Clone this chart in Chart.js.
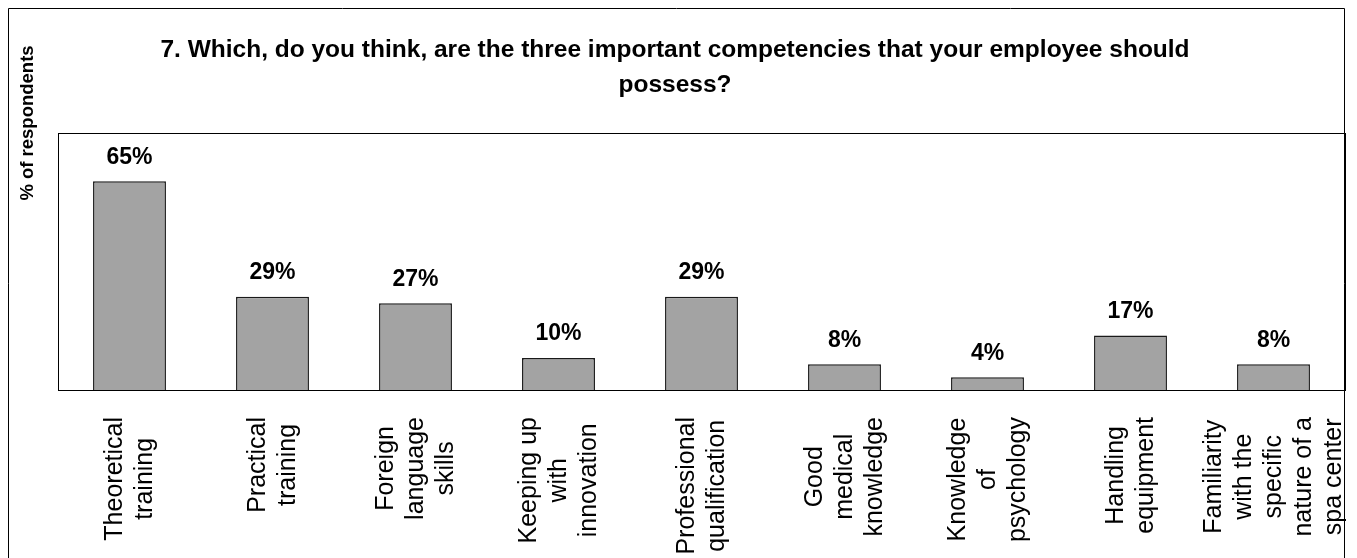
<!DOCTYPE html>
<html>
<head>
<meta charset="utf-8">
<script src="https://cdn.jsdelivr.net/npm/chart.js@4.4.1/dist/chart.umd.min.js"></script>
<style>
  html, body { margin: 0; padding: 0; background: #ffffff; }
  #wrap { width: 1357px; height: 558px; position: relative; }
</style>
</head>
<body>
<div id="wrap"><canvas id="c" width="1357" height="558"></canvas></div>
<script>
// Survey question and answers
const titleLines = [
  '7. Which, do you think, are the three important competencies that your employee should',
  'possess?'
];
const yAxisTitle = '% of respondents';
const categories = [
  ['Theoretical', 'training'],
  ['Practical', 'training'],
  ['Foreign', 'language', 'skills'],
  ['Keeping up', 'with', 'innovation'],
  ['Professional', 'qualification'],
  ['Good', 'medical', 'knowledge'],
  ['Knowledge', 'of', 'psychology'],
  ['Handling', 'equipment'],
  ['Familiarity', 'with the', 'specific', 'nature of a', 'spa center']
];
const percentValues = [65, 29, 27, 10, 29, 8, 4, 17, 8];
const valueLabels = ['65%', '29%', '27%', '10%', '29%', '8%', '4%', '17%', '8%'];

const FONT = '"Liberation Sans", Arial, Helvetica, sans-serif';

// Frames, titles, value labels and multi-line category labels
const decorations = {
  id: 'decorations',
  beforeDatasetsDraw(chart) {
    const { ctx, chartArea: a } = chart;
    ctx.save();
    ctx.strokeStyle = '#000';
    ctx.lineWidth = 1;
    // outer frame
    ctx.beginPath();
    ctx.moveTo(8.5, 600);
    ctx.lineTo(8.5, 8.5);
    ctx.lineTo(1344.5, 8.5);
    ctx.lineTo(1344.5, 600);
    ctx.stroke();
    // plot box
    ctx.strokeRect(Math.round(a.left) + 0.5, Math.round(a.top) + 0.5,
      Math.round(a.right - a.left), Math.round(a.bottom - a.top));
    ctx.restore();
  },
  afterDatasetsDraw(chart) {
    const { ctx, chartArea: a } = chart;
    const xs = chart.scales.x, ys = chart.scales.y;
    ctx.save();
    ctx.fillStyle = '#000';

    // chart title
    ctx.font = 'bold 24.5px ' + FONT;
    ctx.textAlign = 'center';
    ctx.textBaseline = 'alphabetic';
    ctx.fillText(titleLines[0], 675, 57);
    ctx.fillText(titleLines[1], 675, 92);

    // y axis title
    ctx.save();
    ctx.translate(33, 123);
    ctx.rotate(-Math.PI / 2);
    ctx.font = 'bold 18.5px ' + FONT;
    ctx.textAlign = 'center';
    ctx.textBaseline = 'alphabetic';
    ctx.fillText(yAxisTitle, 0, 0);
    ctx.restore();

    // value labels above bars
    ctx.font = 'bold 23px ' + FONT;
    ctx.textAlign = 'center';
    ctx.textBaseline = 'alphabetic';
    percentValues.forEach((v, i) => {
      ctx.fillText(valueLabels[i], xs.getPixelForValue(i), ys.getPixelForValue(v) - 17.5);
    });

    // rotated, centred multi-line category labels
    ctx.font = '25px ' + FONT;
    const lineH = 30;
    categories.forEach((lines, i) => {
      const cx = xs.getPixelForValue(i);
      const maxW = Math.max(...lines.map(l => ctx.measureText(l).width));
      ctx.save();
      ctx.translate(cx, a.bottom + 27);
      ctx.rotate(-Math.PI / 2);
      ctx.textAlign = 'center';
      ctx.textBaseline = 'middle';
      lines.forEach((l, j) => {
        ctx.fillText(l, -maxW / 2, (j - (lines.length - 1) / 2) * lineH + 1);
      });
      ctx.restore();
    });
    ctx.restore();
  }
};

new Chart(document.getElementById('c'), {
  type: 'bar',
  data: {
    labels: categories,
    datasets: [{
      data: percentValues,
      backgroundColor: '#a3a3a3',
      borderColor: '#1a1a1a',
      borderWidth: 1.5,
      barPercentage: 0.51,
      categoryPercentage: 1.0
    }]
  },
  options: {
    responsive: false,
    animation: false,
    devicePixelRatio: 1,
    layout: { padding: { left: 58, top: 133, right: 12, bottom: 168 } },
    plugins: {
      legend: { display: false },
      title: { display: false },
      tooltip: { enabled: false }
    },
    scales: {
      x: { display: false },
      y: { display: false, min: 0, max: 80 }
    }
  },
  plugins: [decorations]
});
</script>
</body>
</html>
